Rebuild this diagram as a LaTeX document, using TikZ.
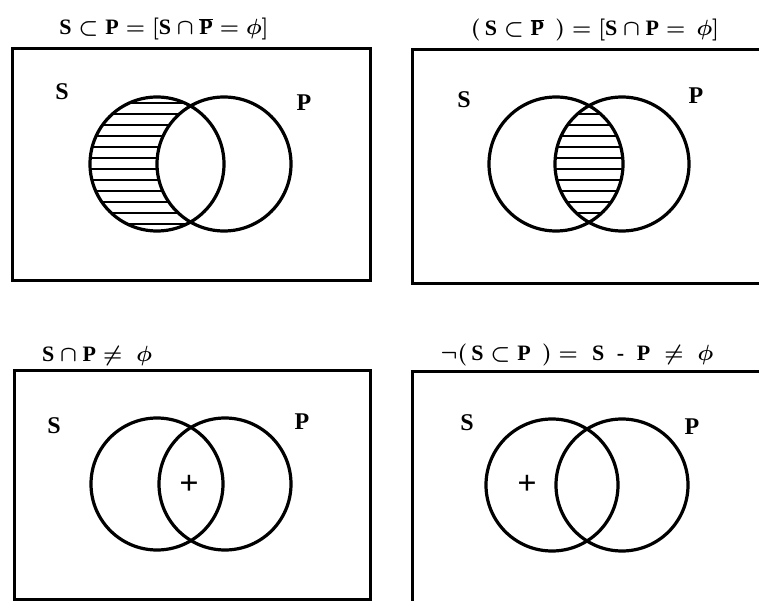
\documentclass[tikz,border=0pt]{standalone}
\usepackage{fix-cm}
\usepackage{fontspec}
\setmainfont{Liberation Serif}
\newcommand{\mS}{\mbox{\bfseries S}}
\newcommand{\mP}{\mbox{\bfseries P}}
\tikzset{
  frame/.style={line width=3pt},
  venn/.style={line width=3.2pt},
  hatch/.style={line width=2pt},
  title/.style={inner sep=0pt, anchor=base, font=\fontsize{22}{26}\selectfont\bfseries\boldmath},
  lbl/.style={inner sep=0pt, font=\fontsize{24}{28}\selectfont\bfseries},
  plus/.style={inner sep=0pt, font=\fontsize{34}{36}\selectfont\bfseries}
}
\begin{document}
\begin{tikzpicture}[x=1pt,y=-1pt]
\useasboundingbox (0,0) rectangle (759,601);
\fill[white] (0,0) rectangle (759,601);

% ---------- panel 1 ----------
\draw[frame] (12,49) rectangle (370,280);
\begin{scope}
  \clip (157,164) circle (67);
  \foreach \k in {-6,...,5} \draw[hatch] (80,{169.5+11*\k}) -- (240,{169.5+11*\k});
\end{scope}
\fill[white] (224,164) circle (67);
\draw[venn] (157,164) circle (67);
\draw[venn] (224,164) circle (67);
\node[lbl] (s1) at (62,92) {S};
\node[lbl] (p1) at (304,103) {P};
\node[title] (t1) at (164,35) {$\mS\subset\mP=\Big[\mS\cap\overline{\mP}=\phi\Big]$};

% ---------- panel 2 ----------
\draw[frame] (412,50) rectangle (775,283);
\begin{scope}
  \clip (556,164) circle (67);
  \clip (622,164) circle (67);
  \foreach \k in {-6,...,5} \draw[hatch] (540,{169.5+11*\k}) -- (640,{169.5+11*\k});
\end{scope}
\draw[venn] (556,164) circle (67);
\draw[venn] (622,164) circle (67);
\node[lbl] (s2) at (464,100) {S};
\node[lbl] (p2) at (696,96) {P};
\node[title] (t2) at (595,36) {$(\,\mS\subset\overline{\mP}\;\,)=\Big[\mS\cap\mP=\,\phi\Big]$};

% ---------- panel 3 ----------
\draw[frame] (14,370) rectangle (370,599);
\draw[venn] (157,484) circle (66);
\draw[venn] (225,484) circle (66);
\node[lbl] (s3) at (54,426) {S};
\node[lbl] (p3) at (302,422) {P};
\node[plus] (x3) at (189,485) {+};
\node[title, anchor=base west] (t3) at (42,361) {$\mS\cap\mP\neq\;\phi$};

% ---------- panel 4 ----------
\draw[frame] (412,371) rectangle (775,610);
\draw[venn] (552,485) circle (66);
\draw[venn] (622,485) circle (66);
\node[lbl] (s4) at (467,423) {S};
\node[lbl] (p4) at (692,427) {P};
\node[plus] (x4) at (527,485) {+};
\node[title] (t4) at (577,360) {$\neg(\,\mS\subset\mP\;\,)=\;\mS\;\mathbin{\mbox{-}}\;\mP\;\neq\;\phi$};
\end{tikzpicture}
\end{document}
